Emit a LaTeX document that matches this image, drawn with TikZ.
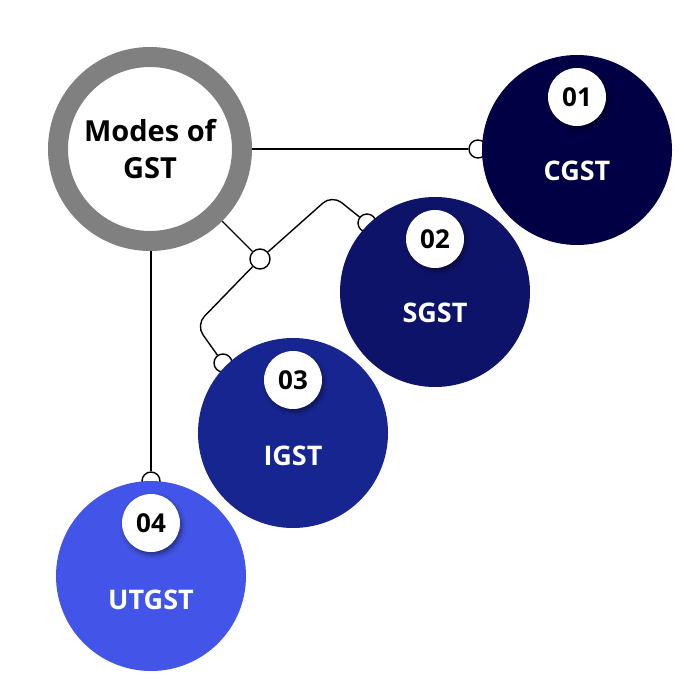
\documentclass[tikz,border=0pt]{standalone}
\usepackage{fontspec}
\setmainfont{Open Sans}
\usetikzlibrary{shadows.blur}

\definecolor{cgstcol}{RGB}{2,0,68}
\definecolor{sgstcol}{RGB}{14,19,106}
\definecolor{igstcol}{RGB}{23,37,145}
\definecolor{utgstcol}{RGB}{67,85,232}
\definecolor{ringcol}{RGB}{128,128,128}

\tikzset{
	mode/.style={circle, minimum size=190pt, inner sep=0pt},
	modetext/.style={text=white, font=\bfseries\fontsize{27}{30}\selectfont},
	badge/.style={circle, fill=white, minimum size=58pt, inner sep=0pt,
		font=\bfseries\fontsize{26}{28}\selectfont,
		blur shadow={shadow xshift=2pt, shadow yshift=-3pt, shadow blur radius=4pt, shadow opacity=45}},
	knob/.style={circle, draw, line width=1.4pt, fill=white, minimum size=18pt, inner sep=0pt},
	wire/.style={line width=1.4pt}
}

\begin{document}
\begin{tikzpicture}[x=1pt, y=-1pt]
		\useasboundingbox (0,0) rectangle (700,700);

		% centre ring
		\node[circle, draw=ringcol, line width=20pt, fill=white, minimum size=184pt, inner sep=0pt,
			align=center, font=\bfseries\fontsize{29}{37}\selectfont] (gst) at (150,149) {Modes of\\GST};

		% knobs and bends
		\node[knob] (k1) at (478,149) {};
		\node[knob] (k2) at (367,223) {};
		\node[knob] (k3) at (223,363) {};
		\node[knob] (k4) at (151,481) {};
		\node[knob, minimum size=20pt] (hub) at (260,259) {};
		\coordinate (b2) at (332,195);
		\coordinate (b3) at (196,325);

		\draw[wire] (gst.east |- k1) -- (k1);
		\draw[wire] (gst.south east) -- (hub);
		\draw[wire, rounded corners=12pt] (hub) -- (b2) -- (k2);
		\draw[wire, rounded corners=12pt] (hub) -- (b3) -- (k3);
		\draw[wire] (k4 |- gst.south) -- (k4);

		% modes
		\node[mode, fill=cgstcol] (cgst) at (577,150) {};
		\node[mode, fill=sgstcol] (sgst) at (435,292) {};
		\node[mode, fill=igstcol] (igst) at (293,433) {};
		\node[mode, fill=utgstcol] (utgst) at (151,576) {};

		\node[badge] (n1) at ([yshift=53pt]cgst.center) {01};
		\node[badge] (n2) at ([yshift=53pt]sgst.center) {02};
		\node[badge] (n3) at ([yshift=53pt]igst.center) {03};
		\node[badge] (n4) at ([yshift=53pt]utgst.center) {04};

		\node[modetext] (t1) at ([yshift=-21pt]cgst.center) {CGST};
		\node[modetext] (t2) at ([yshift=-21pt]sgst.center) {SGST};
		\node[modetext] (t3) at ([yshift=-23pt]igst.center) {IGST};
		\node[modetext] (t4) at ([yshift=-24pt]utgst.center) {UTGST};

	\end{tikzpicture}
\end{document}
